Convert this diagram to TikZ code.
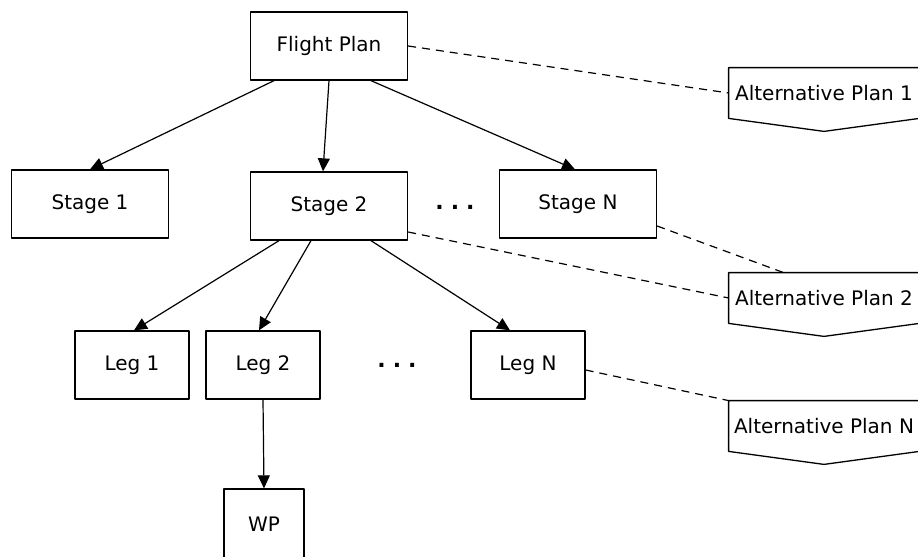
\documentclass[tikz,border=0pt]{standalone}
\usepackage{fontspec}
\setmainfont{DejaVu Sans}
\usetikzlibrary{arrows.meta}
\begin{document}
\begin{tikzpicture}[x=0.5pt, y=-0.5pt, font=\fontsize{10}{12}\selectfont, line join=round, >={Triangle[length=6.5pt,width=6pt]},
  box/.style={draw, line width=0.65pt, minimum height=34pt, inner sep=0pt},
  widebox/.style={box, minimum width=78.5pt},
  legbox/.style={box, minimum width=57pt},
  altbox/.style={minimum width=95pt, minimum height=25pt, inner sep=0pt},
  dots/.style={font=\fontsize{11}{12}\selectfont\bfseries, inner sep=0pt},
  link/.style={->, line width=0.6pt},
  altlink/.style={dash pattern=on 4pt off 3pt, line width=0.6pt}]
\useasboundingbox (0,0) rectangle (918,557);
\node[widebox] (plan) at (329,46) {Flight Plan};
\node[widebox] (stage1) at (90,204) {Stage 1};
\node[widebox] (stage2) at (329,206) {Stage 2};
\node[widebox] (stageN) at (578,204) {Stage N};
\node[dots] (sdots) at (455,207) {.\kern3.5pt.\kern3.5pt.};
\node[legbox] (leg1) at (132,365) {Leg 1};
\node[legbox] (leg2) at (263,365) {Leg 2};
\node[legbox] (legN) at (528,365) {Leg N};
\node[dots] (ldots) at (397,365) {.\kern3.5pt.\kern3.5pt.};
\node[box, minimum width=40pt, minimum height=35pt] (wp) at (264,524) {WP};
\node[altbox] (alt1) at (824,93) {Alternative Plan 1};
\node[altbox] (alt2) at (824,298) {Alternative Plan 2};
\node[altbox] (altN) at (824,426) {Alternative Plan N};
\foreach \n in {alt1,alt2,altN}
\draw[line width=0.65pt] (\n.north east) -- (\n.north west) -- (\n.south west) -- ([yshift=-6.5pt]\n.south) -- (\n.south east) -- cycle;

% tree
\draw[link] ([xshift=-27.5pt]plan.south) -- (stage1.north);
\draw[link] (plan.south) -- ([xshift=-3pt]stage2.north);
\draw[link] ([xshift=21pt]plan.south) -- ([xshift=-1.5pt]stageN.north);
\draw[link] ([xshift=-25pt]stage2.south) -- ([xshift=1pt]leg1.north);
\draw[link] ([xshift=-9pt]stage2.south) -- ([xshift=-2pt]leg2.north);
\draw[link] ([xshift=21pt]stage2.south) -- ([xshift=-9pt]legN.north);
\draw[link] (leg2.south) -- (wp.north);

% alternatives
\draw[altlink] (plan.east) -- (alt1.west);
\draw[altlink] ([yshift=-13pt]stage2.east) -- (alt2.west);
\draw[altlink] ([yshift=-11pt]stageN.east) -- ([xshift=27.5pt]alt2.north west);
\draw[altlink] ([yshift=-2.5pt]legN.east) -- (altN.north west);
\end{tikzpicture}
\end{document}
